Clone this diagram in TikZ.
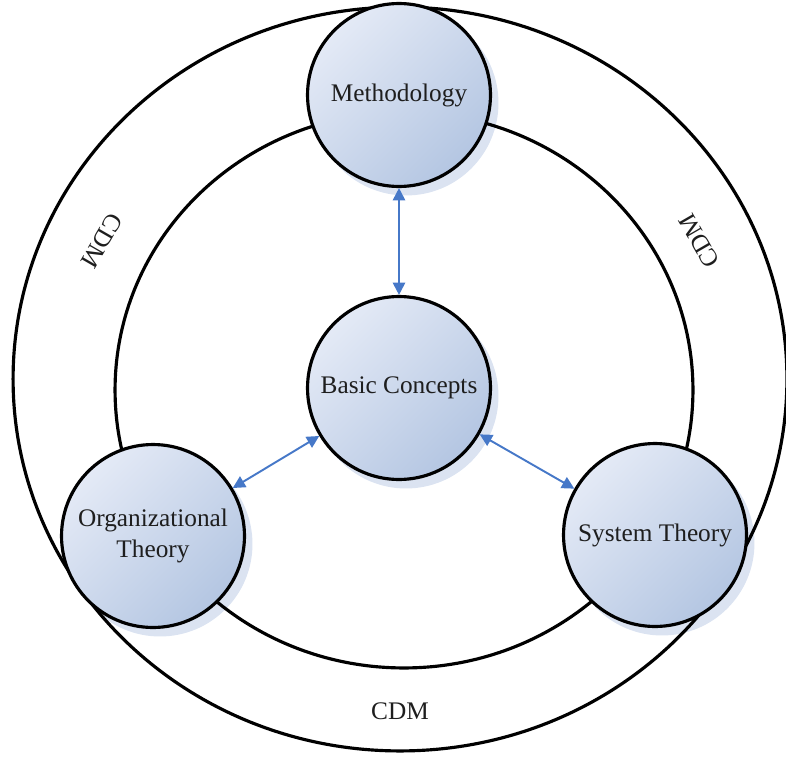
\documentclass[tikz,border=0pt]{standalone}
\usepackage{fontspec}
\setmainfont{Liberation Serif}
\usetikzlibrary{arrows.meta}
\definecolor{node_gray}{RGB}{30,30,30}
\definecolor{node_light}{RGB}{228,234,246}
\definecolor{node_dark}{RGB}{180,198,226}
\definecolor{node_halo}{RGB}{219,227,241}
\definecolor{edge_blue}{RGB}{70,120,200}

\begin{document}
\begin{tikzpicture}[x=0.02cm,y=-0.02cm,>={Triangle[length=7pt,width=7pt]},font=\fontsize{14.4}{18}\selectfont]
    \tikzstyle{topic}=[draw=black, line width=1.8pt, circle, minimum size=3.66cm, inner sep=0pt, top color=node_light, bottom color=node_dark, shading angle=45, text=node_gray, align=center]
    \tikzstyle{underlay}=[circle, minimum size=3.7cm, inner sep=0pt, fill=node_halo]
    \tikzstyle{ring}=[draw=black, line width=1.8pt]
    \tikzstyle{link}=[<->, edge_blue, line width=1.1pt]
    \tikzstyle{cdm}=[text=node_gray]

    \useasboundingbox (0,0) rectangle (786,760);

    % soft shadows behind the circles
    \node[underlay] (method shadow) at (406,103) {};
    \node[underlay] (basic shadow)  at (406,396) {};
    \node[underlay] (org shadow)    at (160,544) {};
    \node[underlay] (sys shadow)    at (662,543) {};

    % the two rings
    \coordinate (outer) at (400,379);
    \coordinate (inner) at (404,390);
    \draw[ring] (outer) ellipse [x radius=7.74cm, y radius=7.44cm];
    \draw[ring] (inner) ellipse [x radius=5.78cm, y radius=5.56cm];

    \node[topic] (method) at (399,95)  {Methodology};
    \node[topic] (basic)  at (399,388) {Basic Concepts};
    \node[topic] (org)    at (153,536) {Organizational\\Theory};
    \node[topic] (sys)    at (655,535) {System Theory};

    \draw[link] (method) -- (basic);
    \draw[link] (basic) -- (org);
    \draw[link] (basic) -- (sys);

    \node[cdm, rotate=-120] (cdm left)   at (102,241) {CDM};
    \node[cdm, rotate=120]  (cdm right)  at (699,241) {CDM};
    \node[cdm]              (cdm bottom) at (400,711) {CDM};
\end{tikzpicture}
\end{document}
